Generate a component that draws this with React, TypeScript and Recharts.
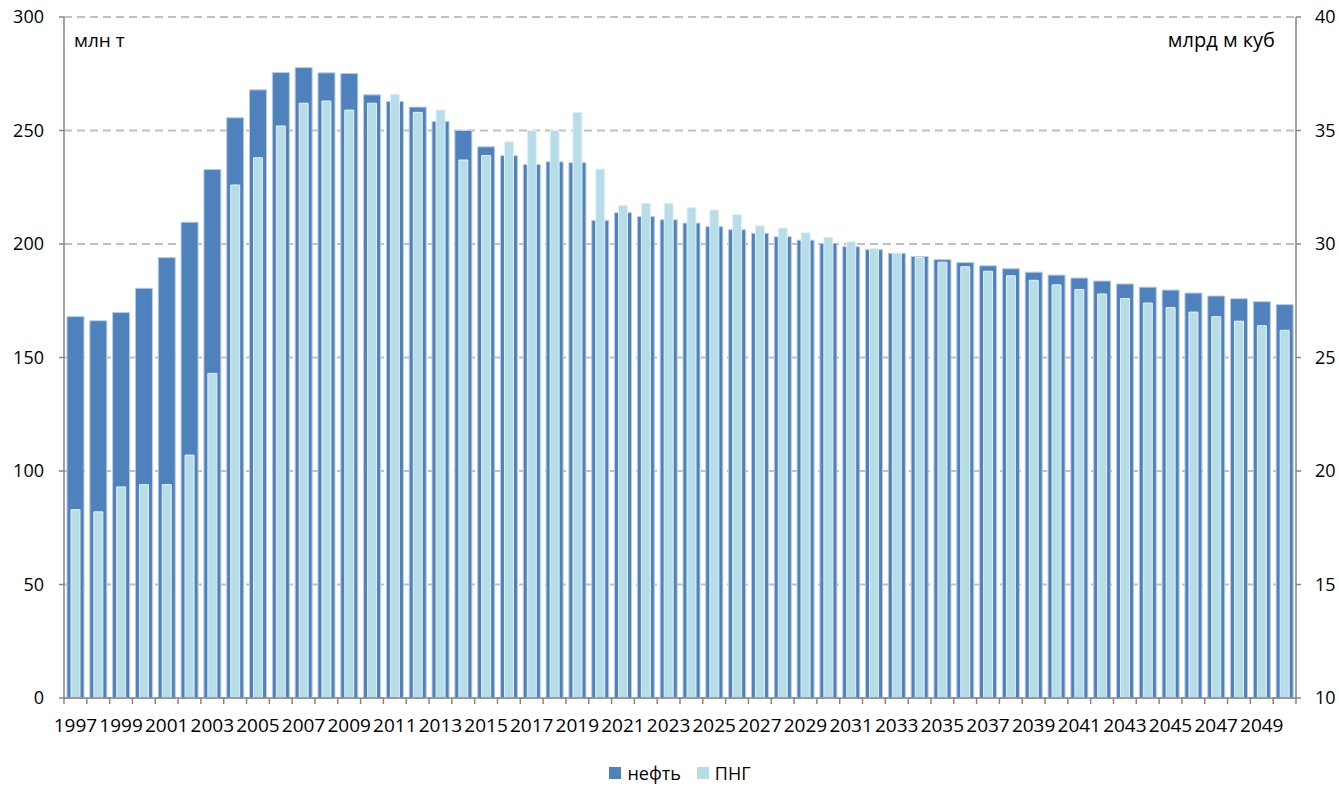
import React from 'react';
import { BarChart, Bar, XAxis, YAxis, CartesianGrid, Legend } from 'recharts';

const years = [
  '1997', '1998', '1999', '2000', '2001', '2002', '2003', '2004', '2005', '2006',
  '2007', '2008', '2009', '2010', '2011', '2012', '2013', '2014', '2015', '2016',
  '2017', '2018', '2019', '2020', '2021', '2022', '2023', '2024', '2025', '2026',
  '2027', '2028', '2029', '2030', '2031', '2032', '2033', '2034', '2035', '2036',
  '2037', '2038', '2039', '2040', '2041', '2042', '2043', '2044', '2045', '2046',
  '2047', '2048', '2049', '2050',
];

// нефть, млн т (left axis)
const oil = [
  168.0, 166.2, 169.8, 180.5, 194.0, 209.6, 232.8, 255.6, 267.9, 275.5,
  277.7, 275.4, 275.1, 265.7, 262.8, 260.3, 254.0, 250.0, 242.8, 238.9,
  235.0, 236.2, 235.8, 210.4, 213.8, 212.1, 210.7, 209.2, 207.6, 206.3,
  204.7, 203.2, 201.7, 200.3, 198.8, 197.5, 195.9, 194.5, 193.1, 191.8,
  190.4, 189.1, 187.6, 186.3, 185.0, 183.7, 182.4, 181.0, 179.7, 178.4,
  177.1, 175.9, 174.6, 173.3,
];

// ПНГ, млрд м куб (right axis)
const png = [
  18.3, 18.2, 19.3, 19.4, 19.4, 20.7, 24.3, 32.6, 33.8, 35.2,
  36.2, 36.3, 35.9, 36.2, 36.6, 35.8, 35.9, 33.7, 33.9, 34.5,
  35.0, 35.0, 35.8, 33.3, 31.7, 31.8, 31.8, 31.6, 31.5, 31.3,
  30.8, 30.7, 30.5, 30.3, 30.1, 29.8, 29.6, 29.4, 29.2, 29.0,
  28.8, 28.6, 28.4, 28.2, 28.0, 27.8, 27.6, 27.4, 27.2, 27.0,
  26.8, 26.6, 26.4, 26.2,
];

const leftTicks = [0, 50, 100, 150, 200, 250, 300];
const rightTicks = [10, 15, 20, 25, 30, 35, 40];

const data = years.map((year, i) => ({ year, oil: oil[i], png: png[i] }));

const FONT = '"Open Sans", sans-serif';
const AXIS = '#868686';
const OIL = '#4F81BD';
const PNG = '#B7DDE8';

const YearTick = (props: any) => {
  const { x, y, payload, index } = props;
  const half = payload.offset || 11.4;
  const i = index ?? payload.index;
  return (
    <g>
      <line x1={x - half} x2={x - half} y1={y} y2={y + 6} stroke={AXIS} strokeWidth={1.5} />
      {i === years.length - 1 && (
        <line x1={x + half} x2={x + half} y1={y} y2={y + 6} stroke={AXIS} strokeWidth={1.5} />
      )}
      {i % 2 === 0 && (
        <text x={x} y={y + 21} dy="0.71em" textAnchor="middle" fill="#000" fontSize={19} fontFamily={FONT}>
          {payload.value}
        </text>
      )}
    </g>
  );
};

const LegendBox = () => (
  <div style={{ display: 'flex', justifyContent: 'center', alignItems: 'center', fontFamily: FONT, fontSize: 18, lineHeight: '26px', color: '#000', height: 26 }}>
    <span style={{ width: 12, height: 12, background: OIL, marginRight: 6 }} />
    <span style={{ marginRight: 16 }}>нефть</span>
    <span style={{ width: 12, height: 12, background: PNG, marginRight: 6 }} />
    <span>ПНГ</span>
  </div>
);

export default function App() {
  return (
    <div style={{ position: 'absolute', left: 0, top: 0, width: 1339, height: 786, background: '#fff' }}>
      <BarChart width={1339} height={786} data={data} margin={{ top: 17, right: 0, left: 0, bottom: 0 }}>
        <CartesianGrid
          xAxisId="a"
          yAxisId="left"
          vertical={false}
          stroke="#C0C0C0"
          strokeWidth={2}
          strokeDasharray="8 5"
        />
        <XAxis
          xAxisId="a"
          dataKey="year"
          interval={0}
          height={62}
          tickSize={0}
          tickMargin={0}
          tickLine={false}
          axisLine={{ stroke: AXIS, strokeWidth: 1.5 }}
          tick={<YearTick />}
        />
        <XAxis xAxisId="b" dataKey="year" hide />
        <YAxis
          yAxisId="left"
          width={64}
          domain={[0, 300]}
          ticks={leftTicks}
          tickSize={5}
          tickMargin={15}
          axisLine={{ stroke: AXIS, strokeWidth: 1.5 }}
          tickLine={{ stroke: AXIS, strokeWidth: 1.5 }}
          tick={{ fill: '#000', fontSize: 18, fontFamily: FONT }}
        />
        <YAxis
          yAxisId="right"
          orientation="right"
          width={43}
          domain={[10, 40]}
          ticks={rightTicks}
          tickSize={5}
          tickMargin={14}
          axisLine={{ stroke: AXIS, strokeWidth: 1.5 }}
          tickLine={{ stroke: AXIS, strokeWidth: 1.5 }}
          tick={{ fill: '#000', fontSize: 18, fontFamily: FONT, textAnchor: 'start' }}
        />
        <Legend verticalAlign="bottom" height={26} wrapperStyle={{ left: 64, width: 1232 }} content={<LegendBox />} />
        <Bar
          dataKey="oil"
          name="нефть"
          xAxisId="a"
          yAxisId="left"
          barSize={17}
          fill={OIL}
          stroke="#B9CDE5"
          strokeWidth={1}
          isAnimationActive={false}
        />
        <Bar
          dataKey="png"
          name="ПНГ"
          xAxisId="b"
          yAxisId="right"
          barSize={9}
          fill={PNG}
          stroke="#E3F1F6"
          strokeWidth={1}
          isAnimationActive={false}
        />
      </BarChart>
      <div style={{ position: 'absolute', left: 74, top: 27, fontFamily: FONT, fontSize: 19, color: '#000', lineHeight: '26px' }}>
        млн т
      </div>
      <div style={{ position: 'absolute', right: 1339 - 1275, top: 27, fontFamily: FONT, fontSize: 20, color: '#000', lineHeight: '26px' }}>
        млрд м куб
      </div>
    </div>
  );
}
